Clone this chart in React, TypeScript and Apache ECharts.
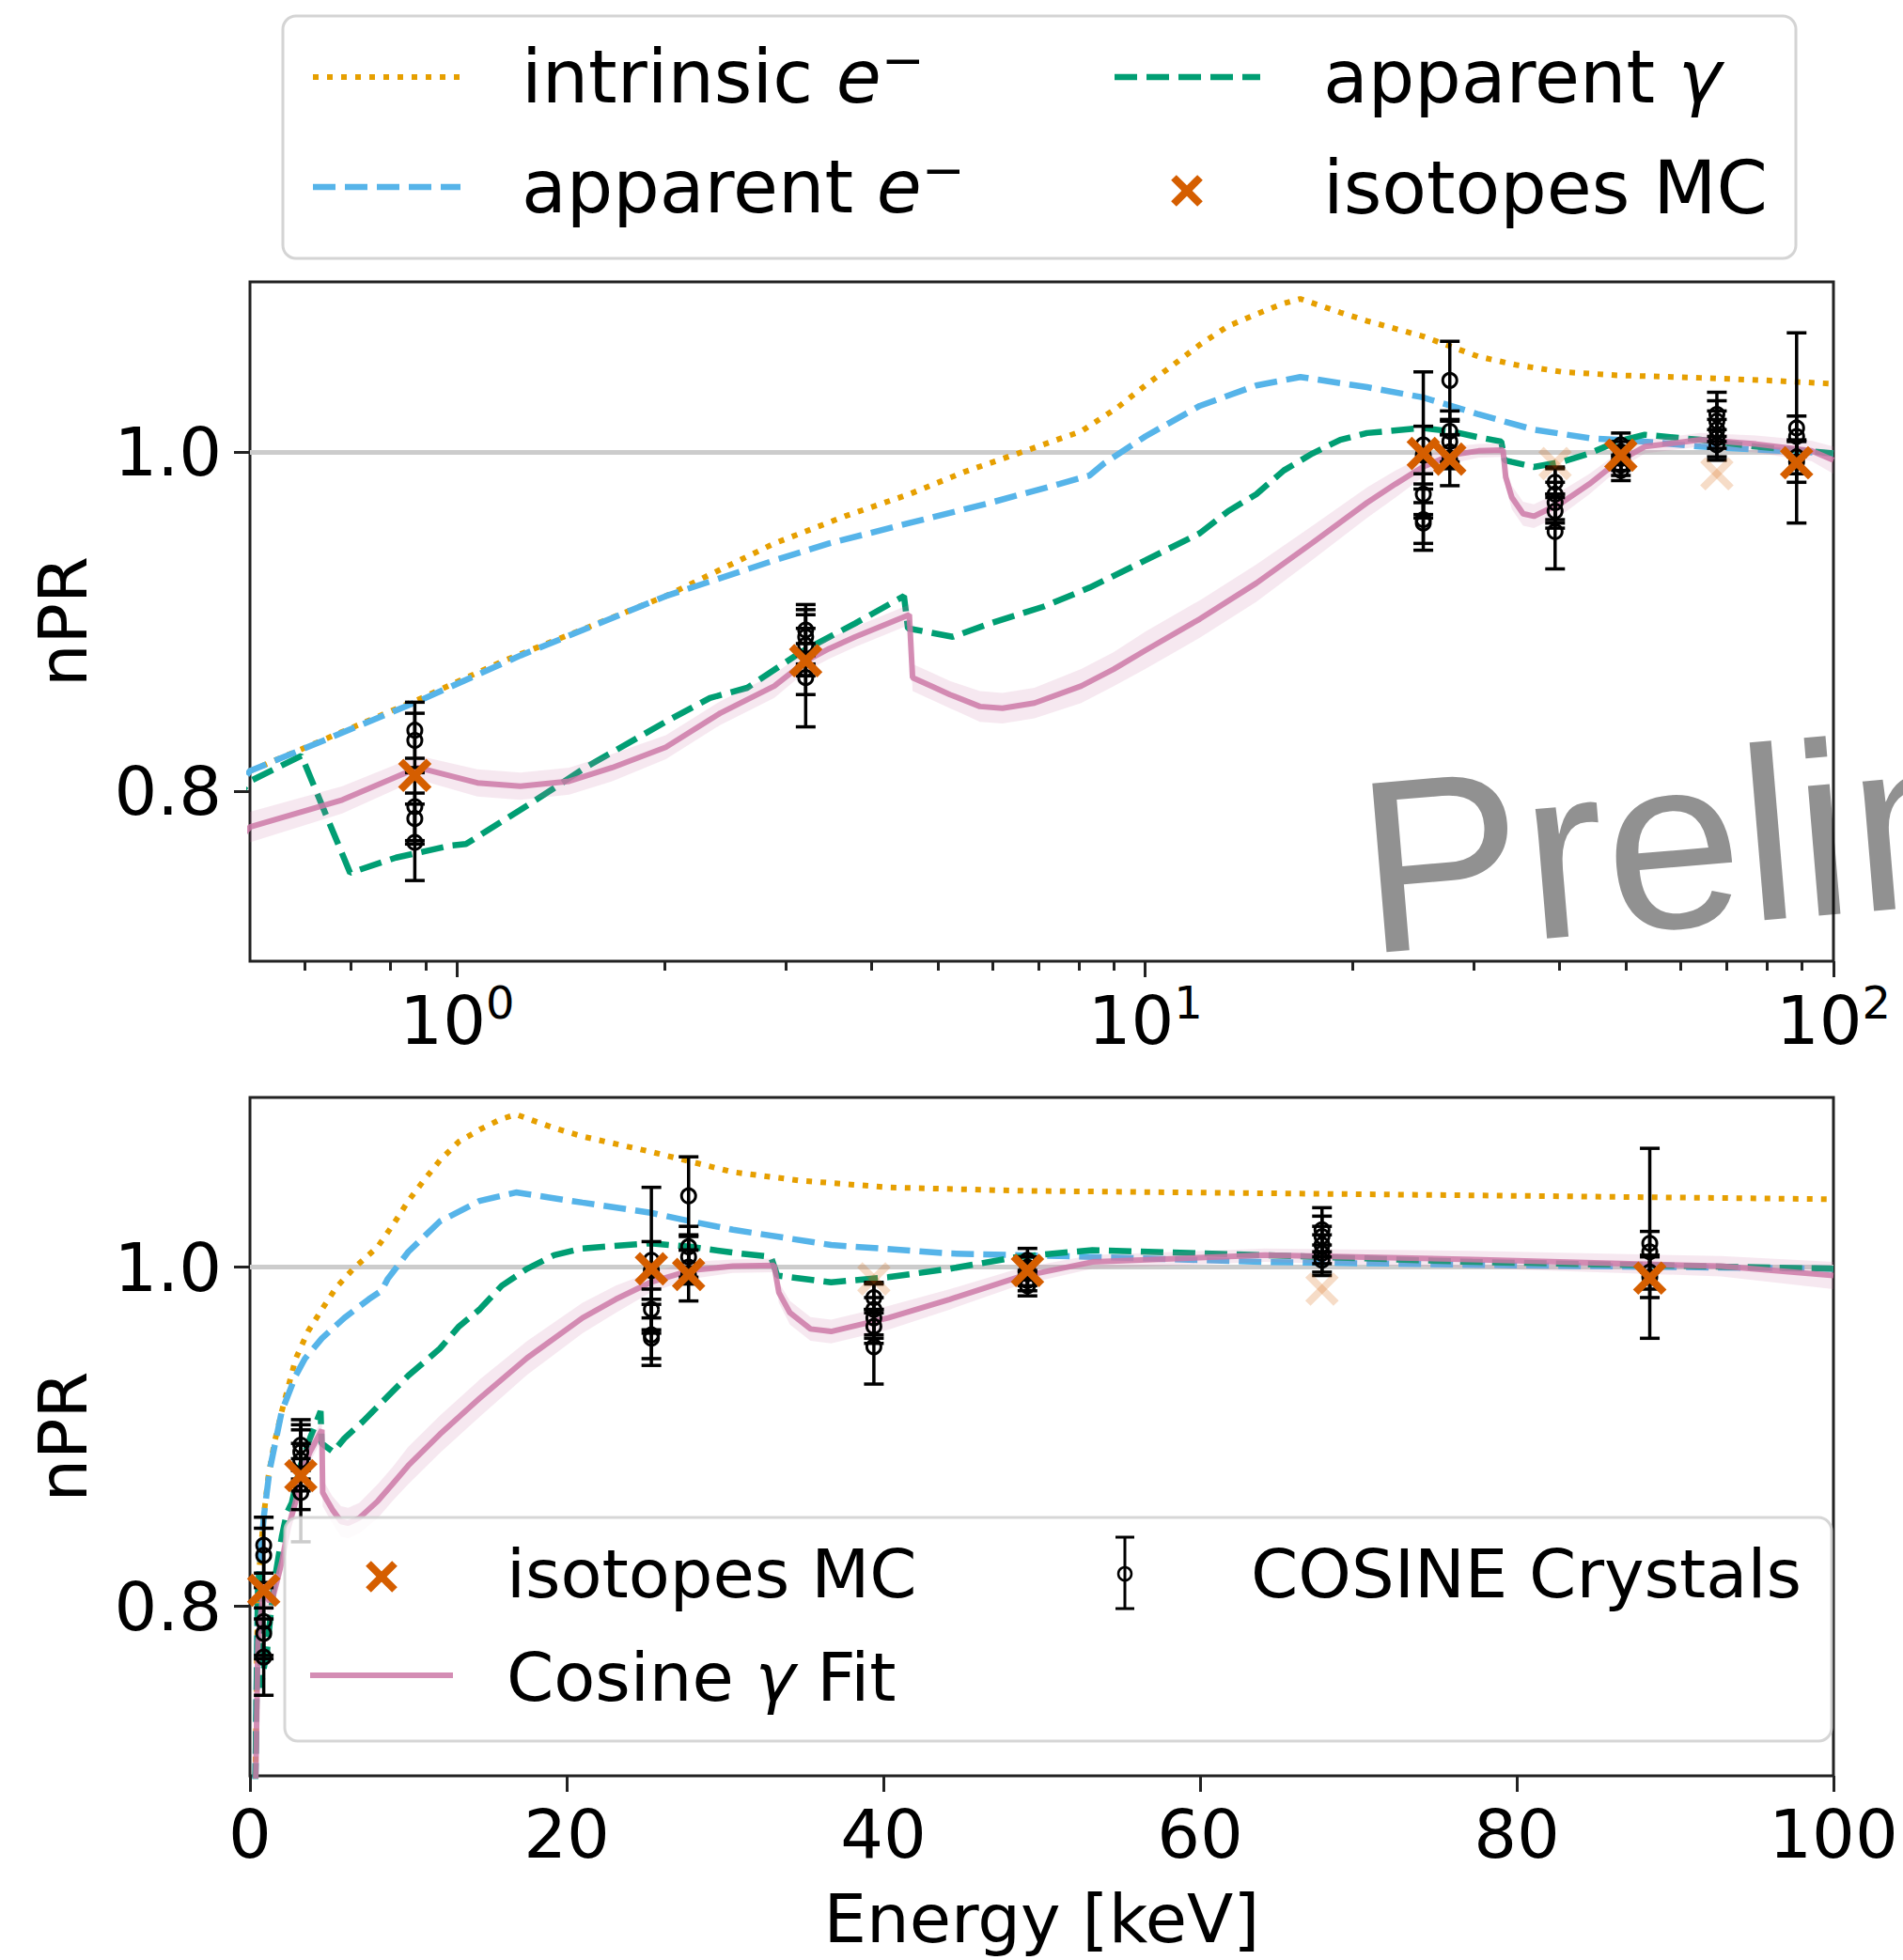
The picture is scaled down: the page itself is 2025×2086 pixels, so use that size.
import React, { useEffect, useRef } from 'react';
import * as echarts from 'echarts';

const FONT = "'DejaVu Sans', 'Noto Sans', sans-serif";
const WATERMARK_FONT = "'Liberation Sans', Arial, sans-serif";

// ---------------- data (energy in keV, nPR) ----------------
const intrinsicEnergy = [0.2, 0.5, 0.877, 1.17, 1.535, 2.01, 2.89, 3.66, 4.54, 5.45, 6.53, 8.07, 9.11, 10.0, 10.97, 12.0, 13.2, 14.5, 15.8, 16.8, 19.2, 21.0, 25.3, 30.5, 34.7, 40.3, 48.5, 64.1, 80, 100];
const intrinsicNPR = [0.60, 0.812, 0.854, 0.877, 0.896, 0.915, 0.946, 0.962, 0.975, 0.988, 0.999, 1.012, 1.026, 1.039, 1.051, 1.063, 1.074, 1.081, 1.087, 1.090, 1.082, 1.077, 1.068, 1.056, 1.051, 1.047, 1.045, 1.0435, 1.042, 1.040];

const apparentEEnergy = [0.2, 0.5, 0.877, 1.236, 2.01, 2.89, 3.47, 4.54, 5.96, 7.5, 8.3, 8.7, 10, 12, 14.5, 16.8, 21, 25.3, 27.8, 30.5, 36.7, 44.2, 53.2, 64.1, 80, 100];
const apparentENPR = [0.60, 0.812, 0.853, 0.880, 0.915, 0.936, 0.946, 0.958, 0.970, 0.981, 0.986, 0.993, 1.009, 1.027, 1.039, 1.044, 1.038, 1.032, 1.027, 1.022, 1.013, 1.008, 1.006, 1.003, 1.001, 0.999];

const apparentGammaEnergy = [0.2, 0.5, 0.594, 0.699, 0.815, 0.977, 1.03, 1.28, 1.535, 2.01, 2.33, 2.64, 3.16, 3.79, 4.46, 4.52, 5.25, 5.96, 7.14, 8.3, 10, 12, 13.2, 14.5, 15.9, 17.5, 19.2, 21, 25.3, 27.8, 30.5, 32.9, 33.3, 34.1, 36.7, 40.3, 44.2, 48.5, 53.2, 64.1, 77.2, 100];
const apparentGammaNPR = [0.60, 0.806, 0.821, 0.752, 0.761, 0.768, 0.769, 0.793, 0.814, 0.841, 0.855, 0.861, 0.882, 0.899, 0.915, 0.896, 0.891, 0.899, 0.909, 0.920, 0.936, 0.952, 0.965, 0.975, 0.989, 0.999, 1.007, 1.011, 1.014, 1.012, 1.0085, 1.006, 0.995, 0.994, 0.991, 0.994, 0.999, 1.006, 1.010, 1.007, 1.003, 0.999];

const fitEnergy = [0.2, 0.5, 0.681, 0.877, 1.07, 1.236, 1.455, 1.68, 2.01, 2.41, 2.89, 3.22, 3.47, 3.79, 4.54, 4.59, 4.89, 5.2, 5.75, 6.2, 6.9, 8.07, 9.0, 10, 12, 14.5, 17.5, 21, 23.1, 25.3, 27.8, 30.5, 33.1, 33.4, 34.1, 35.4, 36.7, 40.3, 44.2, 48.5, 53.2, 64.1, 77.2, 92.9, 100];
const fitNPR = [0.60, 0.779, 0.795, 0.814, 0.805, 0.803, 0.806, 0.814, 0.826, 0.846, 0.862, 0.877, 0.884, 0.891, 0.904, 0.867, 0.862, 0.857, 0.850, 0.849, 0.852, 0.862, 0.872, 0.883, 0.9015, 0.9226, 0.9464, 0.970, 0.981, 0.991, 0.998, 1.0005, 1.001, 0.985, 0.973, 0.9635, 0.962, 0.970, 0.981, 0.994, 1.003, 1.007, 1.0045, 1.0005, 0.995];
const fitBandHalf = [0.01, 0.009, 0.008, 0.007, 0.008, 0.008, 0.008, 0.008, 0.007, 0.007, 0.007, 0.006, 0.006, 0.006, 0.006, 0.008, 0.008, 0.008, 0.009, 0.009, 0.009, 0.010, 0.010, 0.011, 0.011, 0.011, 0.010, 0.009, 0.008, 0.006, 0.005, 0.004, 0.004, 0.006, 0.007, 0.007, 0.007, 0.007, 0.006, 0.005, 0.004, 0.004, 0.005, 0.006, 0.008];

const crystalEnergy = [
  0.868, 0.868, 0.868, 0.868, 0.868,
  3.21, 3.21, 3.21, 3.21, 3.21,
  25.35, 25.35, 25.35, 25.35, 25.35,
  27.7, 27.7, 27.7, 27.7, 27.7,
  39.4, 39.4, 39.4, 39.4, 39.4,
  49.1, 49.1, 49.1, 49.1, 49.1,
  67.7, 67.7, 67.7, 67.7, 67.7,
  88.4, 88.4, 88.4, 88.4,
];
const crystalNPR = [
  0.836, 0.830, 0.791, 0.784, 0.770,
  0.895, 0.891, 0.886, 0.872, 0.867,
  1.004, 0.998, 0.975, 0.960, 0.958,
  1.042, 1.012, 1.006, 1.000, 0.995,
  0.982, 0.975, 0.970, 0.965, 0.953,
  1.004, 1.000, 0.996, 0.992, 0.989,
  1.022, 1.018, 1.013, 1.008, 1.004,
  1.014, 1.009, 0.997, 0.994,
];
const crystalErr = [
  0.0165, 0.016, 0.02, 0.015, 0.0225,
  0.015, 0.016, 0.018, 0.015, 0.029,
  0.043, 0.017, 0.012, 0.018, 0.012,
  0.023, 0.012, 0.012, 0.010, 0.015,
  0.009, 0.015, 0.012, 0.010, 0.022,
  0.007, 0.006, 0.007, 0.006, 0.006,
  0.013, 0.012, 0.011, 0.011, 0.009,
  0.056, 0.012, 0.010, 0.012,
];

const isotopeEnergy = [0.868, 3.21, 25.35, 27.7, 49.1, 88.4];
const isotopeNPR = [0.8094, 0.877, 0.999, 0.9956, 0.998, 0.9935];
const isotopeFadedEnergy = [39.4, 67.7];
const isotopeFadedNPR = [0.993, 0.987];

const yTicks = [0.8, 1.0];
const logMajorTicks = [1, 10, 100];
const logMinorTicks = [0.6, 0.7, 0.8, 0.9, 2, 3, 4, 5, 6, 7, 8, 9, 20, 30, 40, 50, 60, 70, 80, 90];

const C = {
  intrinsic: '#E69F00',
  apparentE: '#56B4E9',
  apparentGamma: '#009E73',
  fit: 'rgba(204,121,167,0.85)',
  band: 'rgba(204,121,167,0.17)',
  iso: '#D55E00',
  isoFaded: 'rgba(213,94,0,0.22)',
  frame: '#222222',
};

const LW = 6.5;
const DASH = [24, 10];
const DOT = [6, 9];
const XS = 15; // half size of the x markers

function buildSeries(g: number, tx: (e: number) => number, minE: number) {
  const pts = (E: number[], V: number[]) => E.map((e, i) => [tx(e), V[i]]);
  const errItem = (params: any, api: any) => {
    const x = api.value(0), y = api.value(1), e = api.value(2);
    const pt = api.coord([x, y + e]);
    const pb = api.coord([x, y - e]);
    const pc = api.coord([x, y]);
    const st = { stroke: '#000', lineWidth: 3.5 };
    return {
      type: 'group',
      children: [
        { type: 'line', shape: { x1: pt[0], y1: pt[1], x2: pb[0], y2: pb[1] }, style: st },
        { type: 'line', shape: { x1: pt[0] - 10.5, y1: pt[1], x2: pt[0] + 10.5, y2: pt[1] }, style: st },
        { type: 'line', shape: { x1: pb[0] - 10.5, y1: pb[1], x2: pb[0] + 10.5, y2: pb[1] }, style: st },
        { type: 'circle', shape: { cx: pc[0], cy: pc[1], r: 7.5 }, style: { fill: 'none', stroke: '#000', lineWidth: 3 } },
      ],
    };
  };
  const xItem = (color: string) => (params: any, api: any) => {
    const p = api.coord([api.value(0), api.value(1)]);
    const st = { stroke: color, lineWidth: 8 };
    return {
      type: 'group',
      children: [
        { type: 'line', shape: { x1: p[0] - XS, y1: p[1] - XS, x2: p[0] + XS, y2: p[1] + XS }, style: st },
        { type: 'line', shape: { x1: p[0] - XS, y1: p[1] + XS, x2: p[0] + XS, y2: p[1] - XS }, style: st },
      ],
    };
  };
  const bandData = fitEnergy
    .map((e, i) => (e >= minE ? [tx(e), fitNPR[i] - fitBandHalf[i], fitNPR[i] + fitBandHalf[i]] : null))
    .filter((d) => d !== null) as number[][];
  const bandItem = (params: any, api: any) => {
    if (params.dataIndex !== 0) return null;
    const upper = bandData.map((d) => api.coord([d[0], d[2]]));
    const lower = bandData.map((d) => api.coord([d[0], d[1]])).reverse();
    return { type: 'polygon', shape: { points: upper.concat(lower) }, style: { fill: C.band } };
  };
  const base = { xAxisIndex: g === 0 ? 0 : 2, yAxisIndex: g, silent: true };
  const lineBase = { ...base, type: 'line', showSymbol: false, symbol: 'none', smooth: false, clip: true };
  return [
    {
      ...lineBase, name: 'intrinsic e-', z: 2,
      data: pts(intrinsicEnergy, intrinsicNPR),
      lineStyle: { color: C.intrinsic, width: 6, type: DOT, cap: 'butt' },
      markLine: {
        silent: true, symbol: ['none', 'none'], z: 1, animation: false,
        label: { show: false },
        lineStyle: { color: '#cccccc', width: 5, type: 'solid' },
        data: [{ yAxis: 1.0 }],
      },
    },
    {
      ...lineBase, name: 'apparent e-', z: 2,
      data: pts(apparentEEnergy, apparentENPR),
      lineStyle: { color: C.apparentE, width: LW, type: DASH },
    },
    {
      ...lineBase, name: 'apparent gamma', z: 2,
      data: pts(apparentGammaEnergy, apparentGammaNPR),
      lineStyle: { color: C.apparentGamma, width: LW, type: DASH },
    },
    {
      ...base, type: 'custom', name: 'fit band ' + g, z: 3,
      data: bandData, encode: { x: 0, y: [1, 2] },
      renderItem: bandItem,
    },
    {
      ...lineBase, name: 'Cosine gamma Fit', z: 3,
      data: pts(fitEnergy, fitNPR),
      lineStyle: { color: C.fit, width: 6 },
    },
    {
      ...base, type: 'custom', name: 'COSINE Crystals', z: 4,
      data: crystalEnergy.map((e, i) => [tx(e), crystalNPR[i], crystalErr[i]]),
      encode: { x: 0, y: 1 },
      renderItem: errItem,
    },
    {
      ...base, type: 'custom', name: 'isotopes MC faded', z: 5,
      data: pts(isotopeFadedEnergy, isotopeFadedNPR),
      encode: { x: 0, y: 1 },
      renderItem: xItem(C.isoFaded),
    },
    {
      ...base, type: 'custom', name: 'isotopes MC', z: 5,
      data: pts(isotopeEnergy, isotopeNPR),
      encode: { x: 0, y: 1 },
      renderItem: xItem(C.iso),
    },
  ];
}

const tickLine = { color: C.frame, width: 3 };
const labelBase = { fontFamily: FONT, fontSize: 72, color: '#000' };
const noLine = { show: false, onZero: false };

function yAxis(g: number) {
  return {
    type: 'value', gridIndex: g, min: 0.7, max: 1.1, position: 'left',
    axisLine: noLine, splitLine: { show: false },
    axisTick: { show: true, length: 17, lineStyle: tickLine, customValues: yTicks },
    axisLabel: { ...labelBase, margin: 30, customValues: yTicks, formatter: (v: number) => v.toFixed(1) },
    name: 'nPR', nameLocation: 'middle', nameGap: 163,
    nameTextStyle: { ...labelBase },
  };
}

function xMarkGraphic(cx: number, cy: number, s: number, color: string) {
  const st = { stroke: color, lineWidth: 8 };
  return [
    { type: 'line', z: 20, silent: true, shape: { x1: cx - s, y1: cy - s, x2: cx + s, y2: cy + s }, style: st },
    { type: 'line', z: 20, silent: true, shape: { x1: cx - s, y1: cy + s, x2: cx + s, y2: cy - s }, style: st },
  ];
}

function txt(x: number, y: number, text: string, size: number, rich?: any) {
  return {
    type: 'text', z: 20, silent: true, x, y,
    style: {
      text, fontFamily: FONT, fontSize: size, fill: '#000',
      align: 'left', verticalAlign: 'middle',
      rich,
    },
  };
}

const richOf = (size: number) => ({
  n: { fontFamily: FONT, fontSize: size, fill: '#000' },
  i: { fontFamily: FONT, fontSize: size, fill: '#000', fontStyle: 'italic' },
  s: { fontFamily: FONT, fontSize: Math.round(size * 0.7), fill: '#000', padding: [0, 0, Math.round(size * 0.47), 0] },
});

export default function App() {
  const ref = useRef<HTMLDivElement>(null);
  useEffect(() => {
    if (!ref.current) return;
    const chart = echarts.init(ref.current, null, { renderer: 'svg' });
    const log10 = (e: number) => Math.log10(e);
    const ident = (e: number) => e;
    const TL = 78; // top legend font size
    const BL = 72; // bottom legend font size

    const graphic: any[] = [
      // top legend
      { type: 'rect', z: 19, silent: true, shape: { x: 301, y: 17, width: 1610, height: 258, r: 14 },
        style: { fill: '#ffffff', stroke: '#d4d4d4', lineWidth: 3 } },
      { type: 'line', z: 20, silent: true, shape: { x1: 333, y1: 82, x2: 490, y2: 82 },
        style: { stroke: C.intrinsic, lineWidth: 6, lineDash: DOT } },
      txt(555, 82, '{n|intrinsic }{i|e}{s|−}', TL, richOf(TL)),
      { type: 'line', z: 20, silent: true, shape: { x1: 1186, y1: 82, x2: 1341, y2: 82 },
        style: { stroke: C.apparentGamma, lineWidth: LW, lineDash: DASH } },
      txt(1408, 82, '{n|apparent }{i|γ}', TL, richOf(TL)),
      { type: 'line', z: 20, silent: true, shape: { x1: 333, y1: 199, x2: 490, y2: 199 },
        style: { stroke: C.apparentE, lineWidth: LW, lineDash: DASH } },
      txt(555, 199, '{n|apparent }{i|e}{s|−}', TL, richOf(TL)),
      ...xMarkGraphic(1263, 203, 14, C.iso),
      txt(1408, 200, 'isotopes MC', TL),

      // bottom legend (semi-transparent, over the plot)
      { type: 'rect', z: 19, silent: true, shape: { x: 303, y: 1615, width: 1646, height: 238, r: 14 },
        style: { fill: 'rgba(255,255,255,0.8)', stroke: 'rgba(204,204,204,0.8)', lineWidth: 3 } },
      ...xMarkGraphic(406, 1678, 14, C.iso),
      txt(539, 1675, 'isotopes MC', BL),
      { type: 'line', z: 20, silent: true, shape: { x1: 1197, y1: 1636, x2: 1197, y2: 1712 }, style: { stroke: '#000', lineWidth: 3 } },
      { type: 'line', z: 20, silent: true, shape: { x1: 1187, y1: 1636, x2: 1207, y2: 1636 }, style: { stroke: '#000', lineWidth: 3 } },
      { type: 'line', z: 20, silent: true, shape: { x1: 1187, y1: 1712, x2: 1207, y2: 1712 }, style: { stroke: '#000', lineWidth: 3 } },
      { type: 'circle', z: 20, silent: true, shape: { cx: 1197, cy: 1675, r: 7 }, style: { fill: 'none', stroke: '#000', lineWidth: 2.5 } },
      txt(1331, 1675, 'COSINE Crystals', BL),
      { type: 'line', z: 20, silent: true, shape: { x1: 330, y1: 1783, x2: 482, y2: 1783 },
        style: { stroke: C.fit, lineWidth: 6 } },
      txt(539, 1785, '{n|Cosine }{i|γ}{n| Fit}', BL, richOf(BL)),

      // watermark
      {
        type: 'group', x: 1454, y: 1015, rotation: 0.0838, z: 30, silent: true,
        children: [
          { type: 'text', z: 30, x: 0, y: -91,
            style: { text: 'Preliminary', fontFamily: WATERMARK_FONT, fontSize: 262, fill: 'rgba(0,0,0,0.43)', align: 'left', verticalAlign: 'middle' } },
        ],
      },
    ];

    const option: any = {
      animation: false,
      backgroundColor: '#ffffff',
      textStyle: { fontFamily: FONT },
      grid: [
        { left: 266, top: 300, width: 1685, height: 723, show: true, borderColor: C.frame, borderWidth: 3, backgroundColor: 'transparent' },
        { left: 266, top: 1168, width: 1685, height: 722, show: true, borderColor: C.frame, borderWidth: 3, backgroundColor: 'transparent' },
      ],
      xAxis: [
        {
          type: 'value', gridIndex: 0, position: 'bottom', min: Math.log10(0.5), max: 2,
          axisLine: noLine, splitLine: { show: false },
          axisTick: { show: true, length: 17, lineStyle: tickLine, customValues: logMajorTicks.map(Math.log10) },
          axisLabel: {
            ...labelBase, margin: 20, customValues: logMajorTicks.map(Math.log10),
            formatter: (v: number) => '{b|10}{s|' + Math.round(v) + '}',
            rich: {
              b: { fontFamily: FONT, fontSize: 72, color: '#000' },
              s: { fontFamily: FONT, fontSize: 48, color: '#000', padding: [0, 0, 38, 0] },
            },
          },
        },
        {
          type: 'value', gridIndex: 0, position: 'bottom', min: Math.log10(0.5), max: 2,
          axisLine: noLine, splitLine: { show: false },
          axisTick: { show: true, length: 10, lineStyle: tickLine, customValues: logMinorTicks.map(Math.log10) },
          axisLabel: { show: false },
        },
        {
          type: 'value', gridIndex: 1, position: 'bottom', min: 0, max: 100, interval: 20,
          axisLine: noLine, splitLine: { show: false },
          axisTick: { show: true, length: 17, lineStyle: tickLine },
          axisLabel: { ...labelBase, margin: 26 },
          name: 'Energy [keV]', nameLocation: 'middle', nameGap: 116,
          nameTextStyle: { ...labelBase },
        },
      ],
      yAxis: [yAxis(0), yAxis(1)],
      series: [...buildSeries(0, log10, 0.5), ...buildSeries(1, ident, 0.5)],
      graphic,
    };
    chart.setOption(option);
    return () => chart.dispose();
  }, []);
  return <div ref={ref} style={{ position: 'absolute', left: 0, top: 0, width: 2025, height: 2086, background: '#fff' }} />;
}
